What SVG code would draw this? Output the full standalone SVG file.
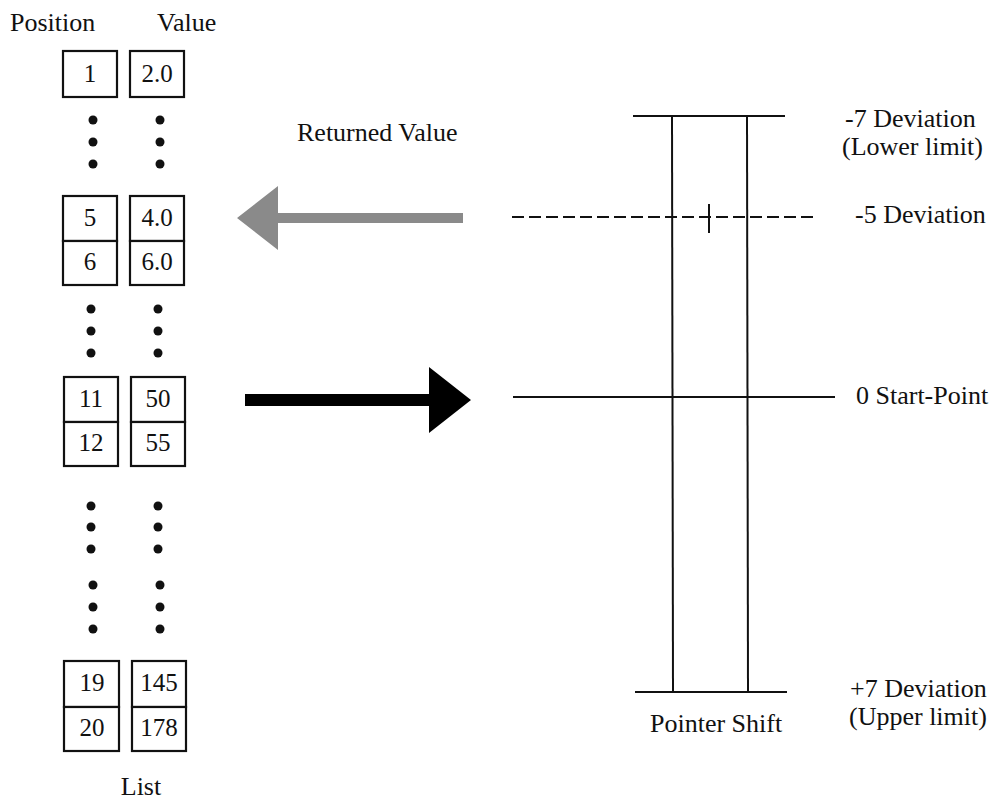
<svg xmlns="http://www.w3.org/2000/svg" width="999" height="800" viewBox="0 0 999 800">
<style>
text{font-family:"Liberation Serif","Times New Roman",serif;font-size:26px;fill:#111}
.c{text-anchor:middle}
.box text{font-size:25px}
.box rect{fill:#fff;stroke:#111;stroke-width:2.2}
.dot{fill:#111}
.ln{stroke:#111;stroke-width:2;fill:none}
</style>
<rect width="999" height="800" fill="#fff"/>
<text x="10" y="31">Position</text>
<text x="157" y="31">Value</text>
<text class="c" x="141" y="795">List</text>

<g id="pos" class="box">
<rect x="63" y="51" width="54" height="46"/><text class="c" x="90" y="82">1</text>
<rect x="63" y="196" width="54" height="45"/><text class="c" x="90" y="226">5</text>
<rect x="63" y="241" width="54" height="44"/><text class="c" x="90" y="270">6</text>
<rect x="64" y="377" width="54" height="45"/><text class="c" x="91" y="407">11</text>
<rect x="64" y="422" width="54" height="44"/><text class="c" x="91" y="451">12</text>
<rect x="64" y="661" width="55" height="46"/><text class="c" x="92" y="691">19</text>
<rect x="64" y="707" width="55" height="44"/><text class="c" x="92" y="736">20</text>
</g>
<g id="val" class="box">
<rect x="130" y="51" width="54" height="46"/><text class="c" x="157" y="82">2.0</text>
<rect x="130" y="196" width="54" height="45"/><text class="c" x="157" y="226">4.0</text>
<rect x="130" y="241" width="54" height="44"/><text class="c" x="157" y="270">6.0</text>
<rect x="131" y="377" width="54" height="45"/><text class="c" x="158" y="407">50</text>
<rect x="131" y="422" width="54" height="44"/><text class="c" x="158" y="451">55</text>
<rect x="132" y="661" width="54" height="46"/><text class="c" x="159" y="691">145</text>
<rect x="132" y="707" width="54" height="44"/><text class="c" x="159" y="736">178</text>
</g>
<g id="dots">
<circle class="dot" cx="93" cy="120" r="4.5"/><circle class="dot" cx="93" cy="142" r="4.5"/><circle class="dot" cx="93" cy="164" r="4.5"/>
<circle class="dot" cx="160" cy="120" r="4.5"/><circle class="dot" cx="160" cy="142" r="4.5"/><circle class="dot" cx="160" cy="164" r="4.5"/>
<circle class="dot" cx="91" cy="309" r="4.5"/><circle class="dot" cx="91" cy="331" r="4.5"/><circle class="dot" cx="91" cy="353" r="4.5"/>
<circle class="dot" cx="158" cy="309" r="4.5"/><circle class="dot" cx="158" cy="331" r="4.5"/><circle class="dot" cx="158" cy="353" r="4.5"/>
<circle class="dot" cx="91" cy="506" r="4.5"/><circle class="dot" cx="91" cy="527" r="4.5"/><circle class="dot" cx="91" cy="549" r="4.5"/>
<circle class="dot" cx="158" cy="506" r="4.5"/><circle class="dot" cx="158" cy="527" r="4.5"/><circle class="dot" cx="158" cy="549" r="4.5"/>
<circle class="dot" cx="93" cy="585" r="4.5"/><circle class="dot" cx="93" cy="607" r="4.5"/><circle class="dot" cx="93" cy="629" r="4.5"/>
<circle class="dot" cx="160" cy="585" r="4.5"/><circle class="dot" cx="160" cy="607" r="4.5"/><circle class="dot" cx="160" cy="629" r="4.5"/>
</g>

<g id="arrows">
<polygon points="237,218 278,186 278,213 463,213 463,223 278,223 278,250" fill="#8a8a8a"/>
<polygon points="245,394 429,394 429,367 471,400 429,433 429,406 245,406" fill="#000"/>
</g>
<text x="297" y="141">Returned Value</text>

<g id="scale">
<line class="ln" x1="633" y1="116" x2="785" y2="116"/>
<line class="ln" x1="635" y1="692" x2="787" y2="692"/>
<line class="ln" x1="672" y1="116" x2="673" y2="692"/>
<line class="ln" x1="747" y1="116" x2="748" y2="692"/>
<line class="ln" x1="512" y1="217" x2="815" y2="217" stroke-dasharray="12,5"/>
<line class="ln" x1="709" y1="204" x2="709" y2="233"/>
<line class="ln" x1="513" y1="397" x2="835" y2="397"/>
</g>
<text x="845" y="127">-7 Deviation</text>
<text x="842" y="155">(Lower limit)</text>
<text x="855" y="223">-5 Deviation</text>
<text x="856" y="404">0 Start-Point</text>
<text x="850" y="697">+7 Deviation</text>
<text x="849" y="725">(Upper limit)</text>
<text x="650" y="732">Pointer Shift</text>
</svg>
